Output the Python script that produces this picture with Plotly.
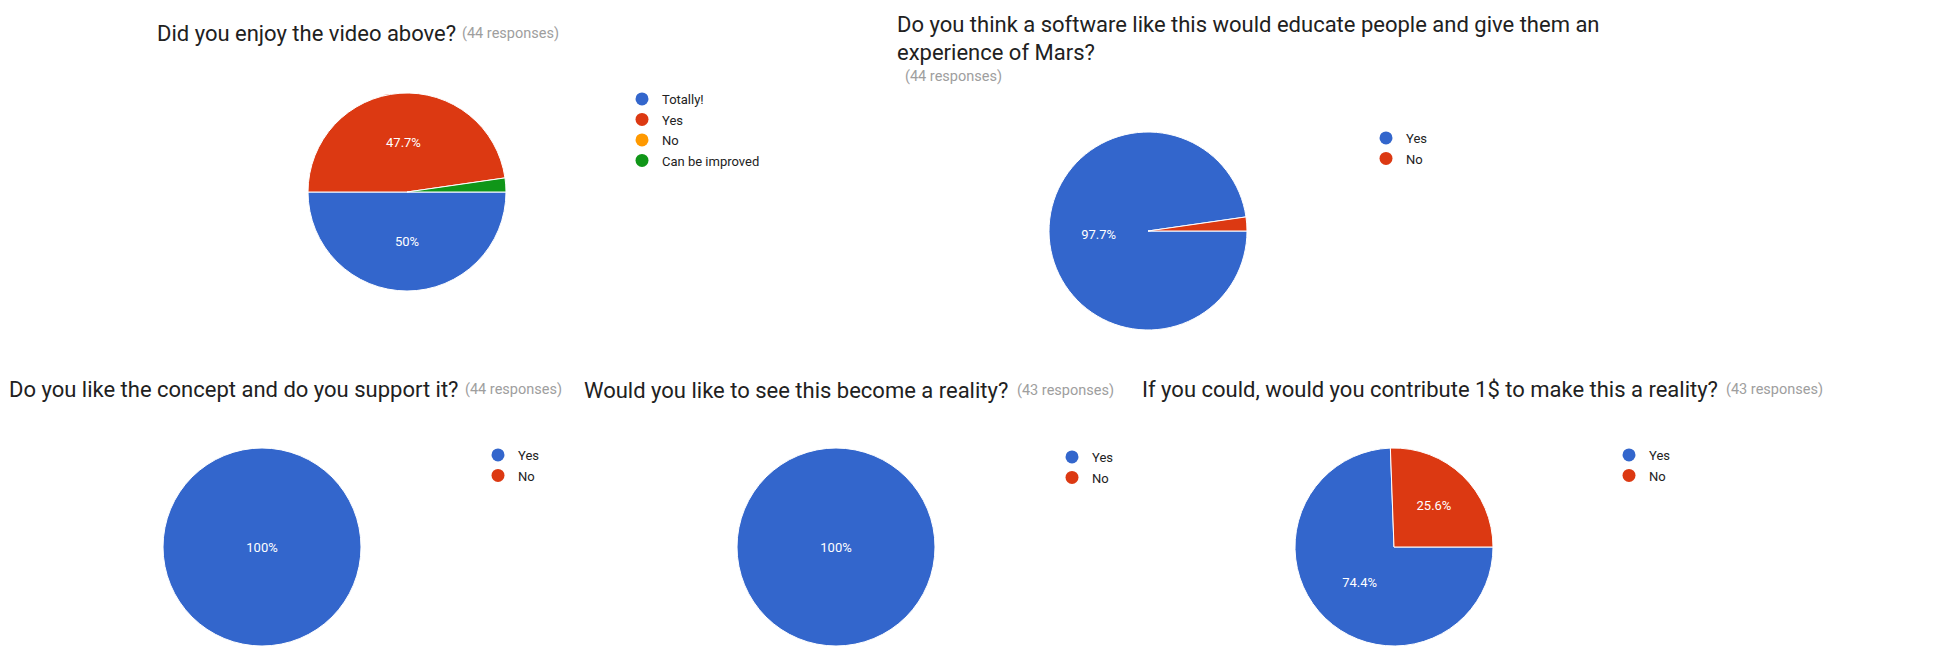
import plotly.graph_objects as go

W, H = 1940, 670

BLUE, RED, ORANGE, GREEN = "#3366cc", "#dc3912", "#ff9900", "#109618"

# ---------------- data ----------------
q1_title = "Did you enjoy the video above?"
q1_responses = "(44 responses)"
q1_labels = ["Totally!", "Yes", "No", "Can be improved"]
q1_counts = [22, 21, 0, 1]
q1_colors = [BLUE, RED, ORANGE, GREEN]

q2_title = ["Do you think a software like this would educate people and give them an",
            "experience of Mars?"]
q2_responses = "(44 responses)"
q2_labels = ["Yes", "No"]
q2_counts = [43, 1]
q2_colors = [BLUE, RED]

q3_title = "Do you like the concept and do you support it?"
q3_responses = "(44 responses)"
q3_labels = ["Yes", "No"]
q3_counts = [44, 0]
q3_colors = [BLUE, RED]

q4_title = "Would you like to see this become a reality?"
q4_responses = "(43 responses)"
q4_labels = ["Yes", "No"]
q4_counts = [43, 0]
q4_colors = [BLUE, RED]

q5_title = "If you could, would you contribute 1$ to make this a reality?"
q5_responses = "(43 responses)"
q5_labels = ["Yes", "No"]
q5_counts = [32, 11]
q5_colors = [BLUE, RED]

# ---------------- layout (pixel positions) ----------------
charts = [
    dict(labels=q1_labels, counts=q1_counts, colors=q1_colors,
         center=(407, 192), r=99,
         titles=[(q1_title, 155, 33)], resp=(q1_responses, 460, 33),
         legend=(646, 98)),
    dict(labels=q2_labels, counts=q2_counts, colors=q2_colors,
         center=(1148, 231), r=99,
         titles=[(q2_title[0], 895, 25), (q2_title[1], 895, 52)], resp=(q2_responses, 903, 76),
         legend=(1390, 137)),
    dict(labels=q3_labels, counts=q3_counts, colors=q3_colors,
         center=(262, 547), r=99,
         titles=[(q3_title, 7, 389)], resp=(q3_responses, 463, 389),
         legend=(502, 454)),
    dict(labels=q4_labels, counts=q4_counts, colors=q4_colors,
         center=(836, 547), r=99,
         titles=[(q4_title, 582, 390)], resp=(q4_responses, 1015, 390),
         legend=(1076, 456)),
    dict(labels=q5_labels, counts=q5_counts, colors=q5_colors,
         center=(1394, 547), r=99,
         titles=[(q5_title, 1140, 389)], resp=(q5_responses, 1724, 389),
         legend=(1633, 454)),
]

FONT = "Roboto, Arial, sans-serif"


def pct_text(counts):
    tot = sum(counts)
    out = []
    for c in counts:
        p = c / tot * 100
        if p < 5:
            out.append("")
        else:
            out.append(f"{round(p, 1):g}%")
    return out


fig = go.Figure()
annotations = []
legends = {}

for i, ch in enumerate(charts):
    cx, cy = ch["center"]
    r = ch["r"]
    fig.add_trace(go.Pie(
        labels=ch["labels"], values=ch["counts"],
        marker=dict(colors=ch["colors"],
                    line=dict(color="white", width=[1 if c > 0 else 0 for c in ch["counts"]])),
        sort=False, direction="clockwise", rotation=90,
        text=pct_text(ch["counts"]), textinfo="text", textposition="inside",
        insidetextorientation="horizontal",
        insidetextfont=dict(family=FONT, size=13, color="white"),
        hoverinfo="label+percent",
        showlegend=False,
        domain=dict(x=[(cx - r) / W, (cx + r) / W], y=[1 - (cy + r) / H, 1 - (cy - r) / H]),
    ))
    lname = "legend" if i == 0 else f"legend{i + 1}"
    for j, (lab, col) in enumerate(zip(ch["labels"], ch["colors"])):
        fig.add_trace(go.Scatter(
            x=[None], y=[None], mode="markers", name=lab,
            marker=dict(color=col, size=13),
            legend=lname, legendgroup=f"{lname}_{j}", showlegend=True,
        ))
    lx, ly = ch["legend"]
    legends[lname] = dict(
        x=(lx - 24) / W, y=1 - (ly - 14) / H, xanchor="left", yanchor="top",
        font=dict(family=FONT, size=13, color="#222222"),
        tracegroupgap=0.6, bgcolor="rgba(0,0,0,0)", borderwidth=0,
        itemclick=False, itemdoubleclick=False,
    )
    for (t, tx, ty) in ch["titles"]:
        annotations.append(dict(
            text=t, x=tx / W, y=1 - ty / H, xref="paper", yref="paper",
            xanchor="left", yanchor="middle", showarrow=False,
            font=dict(family=FONT, size=22, color="#212121"),
        ))
    rt, rx, ry = ch["resp"]
    annotations.append(dict(
        text=rt, x=rx / W, y=1 - ry / H, xref="paper", yref="paper",
        xanchor="left", yanchor="middle", showarrow=False,
        font=dict(family=FONT, size=14.5, color="#9e9e9e"),
    ))

fig.update_layout(
    width=W, height=H,
    margin=dict(l=0, r=0, t=0, b=0),
    paper_bgcolor="white", plot_bgcolor="white",
    xaxis=dict(visible=False), yaxis=dict(visible=False),
    annotations=annotations,
    **legends,
)

fig.write_html("out.html")
